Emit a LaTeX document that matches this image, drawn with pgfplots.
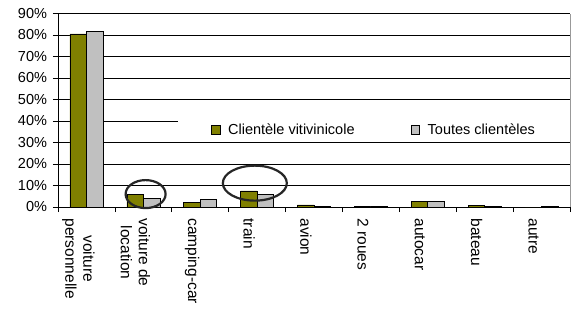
\documentclass[border=0pt]{standalone}
\usepackage{pgfplots}
\pgfplotsset{compat=1.18}
\usepackage{fontspec}
\setmainfont{Liberation Sans}
\definecolor{olivebar}{RGB}{128,128,0}
\definecolor{graybar}{RGB}{192,192,192}
\begin{document}
\begin{tikzpicture}
\useasboundingbox (0,0) rectangle (579pt,309pt);
\begin{axis}[
  at={(58pt,102pt)}, anchor=south west,
  scale only axis, width=512pt, height=193.5pt,
  clip=false,
  ybar=0pt, bar width=16.5pt,
  xmin=-0.5, xmax=8.5, ymin=0, ymax=90,
  axis x line*=bottom, axis y line*=left,
  axis line style={black, line width=0.7pt},
  xtick={0,...,8},
  xticklabels={{voiture\\personnelle},{voiture de\\location},camping-car,train,avion,2 roues,autocar,bateau,autre},
  minor xtick={-0.5,0.5,...,8.5},
  major x tick style={draw=none},
  minor tick length=5pt,
  tick align=outside,
  x tick style={black, line width=0.7pt},
  y tick style={black, line width=0.7pt},
  major tick length=5pt,
  xticklabel style={rotate=-90, anchor=west, align=center, font=\fontsize{15.5}{18}\selectfont, yshift=-8pt, xshift=3pt},
  ytick={0,10,...,90},
  yticklabels={0\%,10\%,20\%,30\%,40\%,50\%,60\%,70\%,80\%,90\%},
  yticklabel style={font=\fontsize{14.5}{16}\selectfont, xshift=-2.5pt},
  ymajorgrids, major grid style={black, line width=0.7pt},
  legend columns=2,
  legend style={at={(0.234,0.398)}, anchor=west, draw=none, fill=white,
    inner xsep=33pt, inner ysep=2pt, font=\fontsize{14.5}{16}\selectfont,
    /tikz/every even column/.append style={column sep=54pt}},
  legend image code/.code={\draw[#1, draw=black, line width=0.6pt] (0pt,-4.2pt) rectangle (8.5pt,4.2pt); \path (14.5pt,0pt);},
]
\addplot[fill=olivebar, draw=black, line width=0.6pt] coordinates {(0,80.5) (1,6.0) (2,2.0) (3,7.5) (4,1.0) (5,0.3) (6,2.5) (7,0.9) (8,0.0)};
\addplot[fill=graybar, draw=black, line width=0.6pt] coordinates {(0,81.5) (1,3.9) (2,3.6) (3,6.0) (4,0.3) (5,0.3) (6,2.5) (7,0.3) (8,0.3)};
\legend{Clientèle vitivinicole, Toutes clientèles}
\draw[gray!80, line width=0.7pt] (rel axis cs:1,0) -- (rel axis cs:1,1);
\draw[black!85, line width=2.2pt] (axis cs:1.04,6.0) ellipse [x radius=20pt, y radius=14pt];
\draw[black!85, line width=2.2pt] (axis cs:2.96,11.1) ellipse [x radius=32pt, y radius=17.5pt];
\end{axis}
\end{tikzpicture}
\end{document}
